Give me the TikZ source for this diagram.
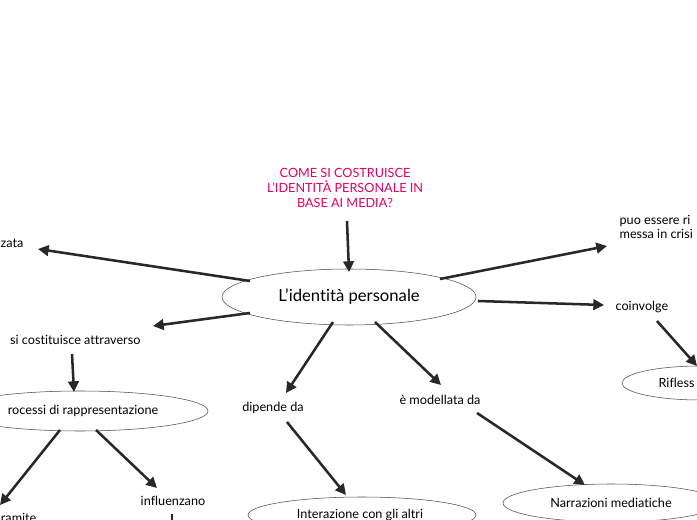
\documentclass[tikz,border=0pt]{standalone}
\usepackage{fontspec}
\setmainfont[Ligatures={NoCommon,NoDiscretionary}]{Lato}
\usetikzlibrary{arrows.meta}
\definecolor{q}{RGB}{228,0,100}
\definecolor{ar}{RGB}{40,40,40}
\begin{document}
\begin{tikzpicture}[x=0.75pt,y=-0.75pt,
  conn/.style={draw=ar,line width=1.9pt,-{Triangle[length=8pt,width=8pt]}},
  lbl/.style={font=\fontsize{9.5}{11}\selectfont,inner sep=1pt},
  elp/.style={draw=black!70,line width=0.4pt}]
\useasboundingbox (0,0) rectangle (697,520);
\clip (0,0) rectangle (697,520);
\fill[white] (0,0) rectangle (697,520);
\node[lbl,text=q,align=center] (q) at (345,188) {COME SI COSTRUISCE\\L'IDENTITÀ PERSONALE IN\\BASE AI MEDIA?};
\draw[elp] (349,297) ellipse (127 and 28);
\node[font=\fontsize{12.5}{14}\selectfont] (c) at (349,297) {L'identità personale};
\coordinate (qb) at (347,221);
\coordinate (ct) at (349,272);
\draw[conn] (qb) -- (ct);
\node[lbl,anchor=east] (zata) at (25,243) {zata};
\coordinate (a1) at (250,281); \coordinate (a1e) at (38,249);
\draw[conn] (a1) -- (a1e);
\node[lbl,anchor=west,align=left] (crisi) at (618,227) {puo essere ri\\messa in crisi};
\coordinate (a2) at (440,279); \coordinate (a2e) at (607,246);
\draw[conn] (a2) -- (a2e);
\node[lbl,anchor=west] (coin) at (614,307) {coinvolge};
\coordinate (a3) at (478,301); \coordinate (a3e) at (604,305);
\draw[conn] (a3) -- (a3e);
\draw[elp] (700,383) ellipse (78 and 17);
\node[lbl,anchor=west] (rif) at (657,383) {Rifless};
\coordinate (a4) at (657,321); \coordinate (a4e) at (697,366);
\draw[conn] (a4) -- (a4e);
\node[lbl,anchor=east] (cost) at (142,340) {si costituisce attraverso};
\coordinate (a5) at (250,313); \coordinate (a5e) at (153,326);
\draw[conn] (a5) -- (a5e);
\draw[elp] (80,411) ellipse (128 and 20);
\node[lbl,anchor=east] (proc) at (160,411) {rocessi di rappresentazione};
\coordinate (a6) at (72,354); \coordinate (a6e) at (74,392);
\draw[conn] (a6) -- (a6e);
\node[lbl,anchor=east] (tram) at (38,518) {ramite};
\coordinate (a7) at (60,430); \coordinate (a7e) at (0,505);
\draw[conn] (a7) -- (a7e);
\node[lbl] (infl) at (173,501) {influenzano};
\coordinate (a8) at (96,430); \coordinate (a8e) at (157,488);
\draw[conn] (a8) -- (a8e);
\coordinate (a9) at (172,514); \coordinate (a9e) at (172,540);
\draw[conn] (a9) -- (a9e);
\node[lbl] (dip) at (273,408) {dipende da};
\coordinate (b1) at (333,322); \coordinate (b1e) at (286,393);
\draw[conn] (b1) -- (b1e);
\draw[elp] (362,515) ellipse (114 and 18);
\node[lbl] (int) at (360,515) {Interazione con gli altri};
\coordinate (b2) at (287,422); \coordinate (b2e) at (346,495);
\draw[conn] (b2) -- (b2e);
\node[lbl] (mod) at (440,400) {è modellata da};
\coordinate (b3) at (375,322); \coordinate (b3e) at (441,385);
\draw[conn] (b3) -- (b3e);
\draw[elp] (611,503) ellipse (108 and 19);
\node[lbl] (nar) at (611,503) {Narrazioni mediatiche};
\coordinate (b4) at (477,413); \coordinate (b4e) at (585,485);
\draw[conn] (b4) -- (b4e);
\end{tikzpicture}
\end{document}
